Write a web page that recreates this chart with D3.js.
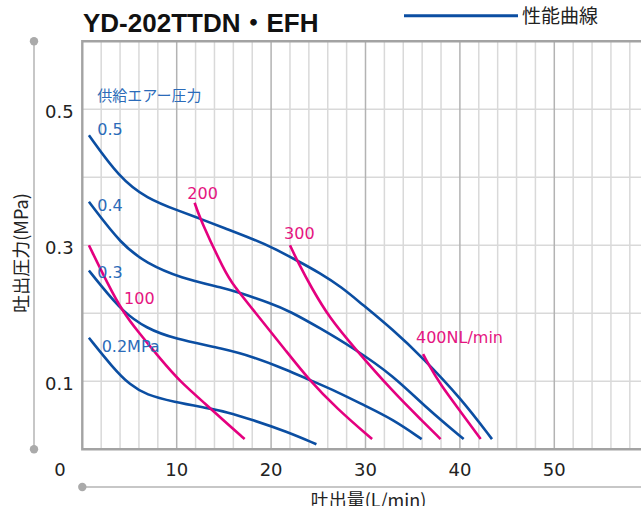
<!DOCTYPE html>
<html><head><meta charset="utf-8">
<script src="https://cdn.jsdelivr.net/npm/d3@7"></script>
<style>html,body{margin:0;padding:0;background:#fff;overflow:hidden}</style>
</head><body><svg id="c" width="641" height="506"></svg>
<script>
// ---------- data ----------
const chartTitle = "YD-202TTDN・EFH";
const legendLabel = "性能曲線";
const supplyTitle = "供給エアー圧力";
const xAxisTitle = "吐出量(L/min)";
const yAxisTitle = "吐出圧力(MPa)";
const xTickValues = [10, 20, 30, 40, 50];
const yTickValues = [0.1, 0.3, 0.5];
const originLabel = "0";

// blue performance curves (supply air pressure)
const blue05x = [0.7, 3.9, 6.8, 10.35, 12.5, 15.1, 18.1, 20.1, 22.7, 25.2, 27.5, 29.4, 32.9, 36.1, 40.1, 43.4];
const blue05y = [0.462, 0.400, 0.369, 0.350, 0.339, 0.325, 0.309, 0.297, 0.278, 0.259, 0.238, 0.216, 0.176, 0.134, 0.075, 0.015];
const blue04x = [0.7, 4.2, 6.8, 10.35, 15.1, 16.7, 19.9, 22.0, 25.2, 28.7, 32.9, 36.5, 40.4];
const blue04y = [0.364, 0.300, 0.274, 0.252, 0.237, 0.230, 0.215, 0.203, 0.178, 0.149, 0.109, 0.060, 0.015];
const blue03x = [0.7, 1.9, 4.3, 6.8, 9.6, 15.1, 18.1, 21.65, 23.9, 26.95, 29.95, 32.9, 35.95];
const blue03y = [0.263, 0.242, 0.202, 0.178, 0.163, 0.1475, 0.136, 0.117, 0.103, 0.085, 0.064, 0.044, 0.015];
const blue02x = [0.7, 3.3, 5.05, 6.8, 9.6, 13.5, 15.1, 18.1, 21.65, 24.8];
const blue02y = [0.164, 0.119, 0.0946, 0.080, 0.070, 0.060, 0.0556, 0.043, 0.026, 0.0074];
const blueLabels = ["0.5", "0.4", "0.3", "0.2MPa"];

// pink air consumption curves (NL/min)
const pink100x = [0.7, 2.75, 4.3, 5.9, 8.2, 10.35, 13.2, 15.1, 17.2];
const pink100y = [0.300, 0.2416, 0.202, 0.173, 0.134, 0.0994, 0.065, 0.0406, 0.015];
const pink200x = [11.9, 12.5, 15.1, 16.0, 18.1, 21.65, 23.9, 26.95, 30.7];
const pink200y = [0.3626, 0.338, 0.261, 0.2416, 0.205, 0.1435, 0.104, 0.060, 0.015];
const pink300x = [22.0, 22.9, 24.3, 26.2, 28.7, 32.9, 36.1, 37.95];
const pink300y = [0.300, 0.2735, 0.237, 0.193, 0.151, 0.0847, 0.0406, 0.015];
const pink400x = [36.1, 36.5, 37.95, 40.1, 42.2];
const pink400y = [0.140, 0.129, 0.0946, 0.055, 0.015];
const pinkLabels = ["100", "200", "300", "400NL/min"];

// ---------- drawing ----------
const BLUE = "#0b4ea2", PINK = "#e4007f", BLUE_TXT = "#2b6bb9", PINK_TXT = "#e5157f";
const NUM_FONT = "'DejaVu Sans', 'Noto Sans CJK JP', sans-serif";
const CJK_FONT = "'Noto Sans CJK JP', 'DejaVu Sans', sans-serif";
const svg = d3.select("#c");
const x = d3.scaleLinear().domain([0, 60]).range([82.3, 648.7]);
const y = d3.scaleLinear().domain([0, 0.6]).range([449.3, 41.3]);

// grid
const g = svg.append("g");
g.selectAll("line.hg").data([0.1, 0.2, 0.3, 0.4, 0.5]).join("line")
  .attr("x1", x(0)).attr("x2", 641).attr("y1", d => y(d)).attr("y2", d => y(d))
  .attr("stroke", "#d9d9d9").attr("stroke-width", 1.5);
g.selectAll("line.vg").data(d3.range(2, 61, 2)).join("line")
  .attr("y1", y(0)).attr("y2", y(0.6)).attr("x1", d => x(d)).attr("x2", d => x(d))
  .attr("stroke", d => d % 10 === 0 ? "#b3b3b3" : "#d9d9d9").attr("stroke-width", 1.5);
// frame
g.append("path")
  .attr("d", `M641,${y(0.6)}H${x(0)}V${y(0)}H641`)
  .attr("fill", "none").attr("stroke", "#a3a3a3").attr("stroke-width", 2.4);

// axis lines with dots
svg.append("line").attr("x1", 34).attr("x2", 34).attr("y1", y(0.6)).attr("y2", y(0))
  .attr("stroke", "#b5b5b5").attr("stroke-width", 1.5);
svg.append("circle").attr("cx", 34).attr("cy", y(0.6)).attr("r", 4.2).attr("fill", "#aaaaaa");
svg.append("circle").attr("cx", 34).attr("cy", y(0)).attr("r", 4.2).attr("fill", "#aaaaaa");
svg.append("line").attr("x1", x(0)).attr("x2", 641).attr("y1", 487).attr("y2", 487)
  .attr("stroke", "#b5b5b5").attr("stroke-width", 1.5);
svg.append("circle").attr("cx", x(0)).attr("cy", 487).attr("r", 4.2).attr("fill", "#aaaaaa");

// tick labels
svg.selectAll("text.yt").data(yTickValues).join("text")
  .attr("x", 45).attr("y", d => y(d) + 2).attr("dy", "0.36em")
  .attr("font-family", NUM_FONT).attr("font-size", 18).attr("fill", "#222")
  .text(d => d3.format(".1f")(d));
svg.selectAll("text.xt").data(xTickValues).join("text")
  .attr("x", d => x(d)).attr("y", 469.5).attr("dy", "0.36em").attr("text-anchor", "middle")
  .attr("font-family", NUM_FONT).attr("font-size", 18).attr("fill", "#222")
  .text(d => d);
svg.append("text").attr("x", 60).attr("y", 469.5).attr("dy", "0.36em").attr("text-anchor", "middle")
  .attr("font-family", NUM_FONT).attr("font-size", 18).attr("fill", "#222").text(originLabel);

// axis titles
svg.append("text").attr("x", 368.5).attr("y", 507).attr("text-anchor", "middle")
  .attr("font-family", CJK_FONT).attr("font-size", 18).attr("fill", "#222").text(xAxisTitle);
svg.append("text").attr("transform", "translate(21.5,253) rotate(-90)").attr("dy", "0.36em")
  .attr("text-anchor", "middle")
  .attr("font-family", CJK_FONT).attr("font-size", 18).attr("fill", "#222").text(yAxisTitle);

// title
svg.append("text").attr("x", 83).attr("y", 32)
  .attr("font-family", "'Liberation Sans', 'Noto Sans CJK JP', sans-serif").attr("font-weight", "bold")
  .attr("font-size", 26).attr("fill", "#111").text(chartTitle);

// legend
svg.append("line").attr("x1", 404).attr("x2", 518).attr("y1", 15.7).attr("y2", 15.7)
  .attr("stroke", BLUE).attr("stroke-width", 3);
svg.append("text").attr("x", 522).attr("y", 16).attr("dy", "0.38em")
  .attr("font-family", CJK_FONT).attr("font-size", 19).attr("fill", "#222").text(legendLabel);

// curves
const line = d3.line().x(d => x(d[0])).y(d => y(d[1])).curve(d3.curveBasis);
const zip = (a, b) => a.map((v, i) => [v, b[i]]);
const blueSeries = [zip(blue05x, blue05y), zip(blue04x, blue04y), zip(blue03x, blue03y), zip(blue02x, blue02y)];
const pinkSeries = [zip(pink100x, pink100y), zip(pink200x, pink200y), zip(pink300x, pink300y), zip(pink400x, pink400y)];
svg.append("g").selectAll("path").data(blueSeries).join("path")
  .attr("d", line).attr("fill", "none").attr("stroke", BLUE).attr("stroke-width", 2.6);
svg.append("g").selectAll("path").data(pinkSeries).join("path")
  .attr("d", line).attr("fill", "none").attr("stroke", PINK).attr("stroke-width", 2.6);

// curve labels (anchored in data units)
const blueLabelPos = [[1.59, 0.4706], [1.59, 0.359], [1.59, 0.260], [2.05, 0.152]];
const pinkLabelPos = [[4.42, 0.222], [11.12, 0.377], [21.37, 0.318], [35.35, 0.1647]];
svg.append("text").attr("x", x(1.59)).attr("y", y(0.521)).attr("dy", "0.38em")
  .attr("font-family", CJK_FONT).attr("font-size", 15).attr("fill", BLUE_TXT).text(supplyTitle);
svg.append("g").selectAll("text").data(blueLabels).join("text")
  .attr("x", (d, i) => x(blueLabelPos[i][0])).attr("y", (d, i) => y(blueLabelPos[i][1])).attr("dy", "0.36em")
  .attr("font-family", NUM_FONT).attr("font-size", 16).attr("fill", BLUE_TXT).text(d => d);
svg.append("g").selectAll("text").data(pinkLabels).join("text")
  .attr("x", (d, i) => x(pinkLabelPos[i][0])).attr("y", (d, i) => y(pinkLabelPos[i][1])).attr("dy", "0.36em")
  .attr("font-family", NUM_FONT).attr("font-size", 16).attr("fill", PINK_TXT).text(d => d);
</script></body></html>
